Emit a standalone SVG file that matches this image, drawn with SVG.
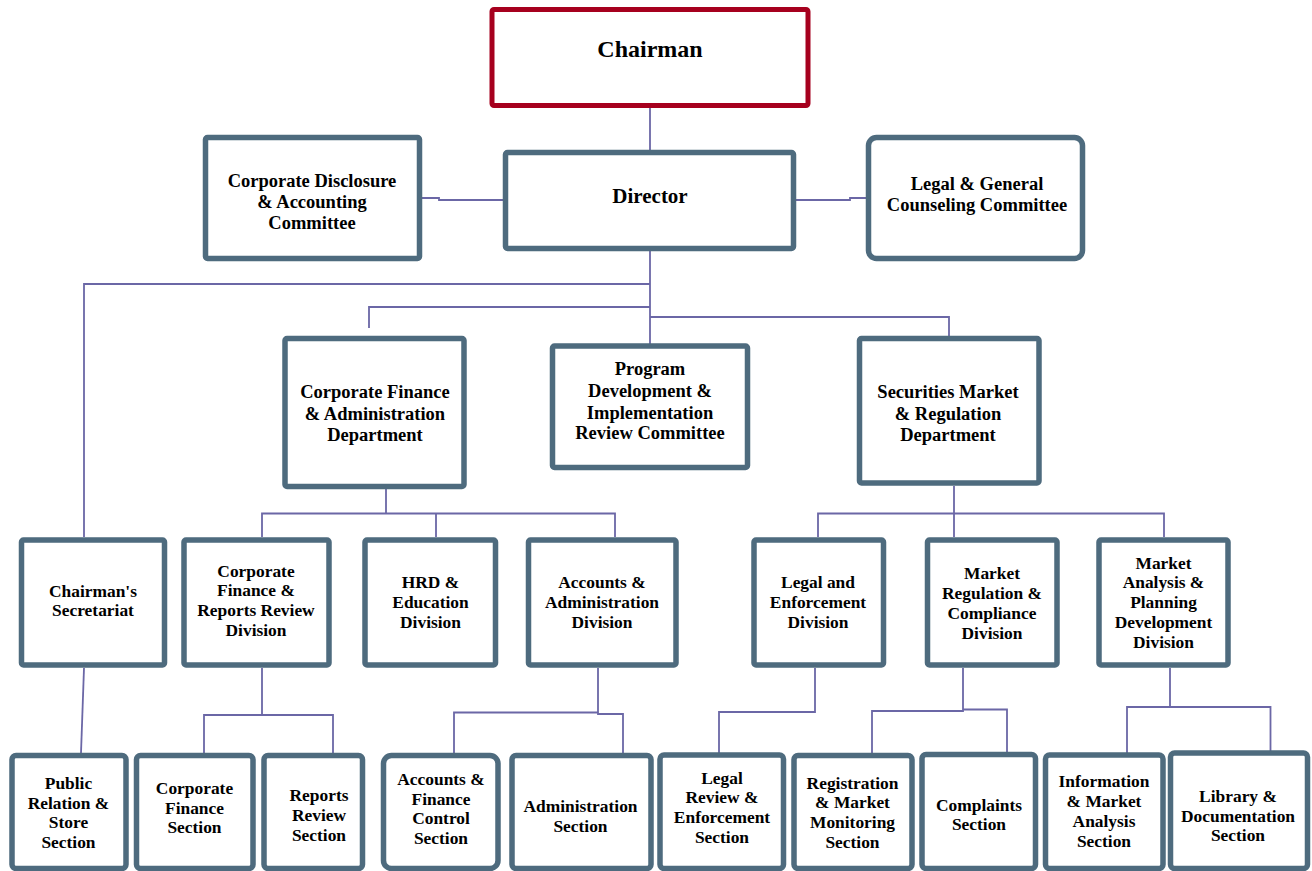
<svg xmlns="http://www.w3.org/2000/svg" width="1312" height="871" viewBox="0 0 1312 871">
<style>
.bx{fill:#fff;stroke:#4E6B7E;stroke-width:5.5}
.red{fill:#fff;stroke:#A6001E;stroke-width:5}
.cn{fill:none;stroke:#6B67A6;stroke-width:1.8}
text{font-family:"Liberation Serif","Times New Roman",serif;font-weight:bold;fill:#000;text-anchor:middle}
.t1{font-size:24px}
.t2{font-size:21px}
.t3{font-size:18.5px}
.t4{font-size:17.4px}
</style>
<rect width="1312" height="871" fill="#fff"/>
<g id="connectors">
<path class="cn" d="M650,108 V151"/>
<path class="cn" d="M422,198 H439 V200 H503"/>
<path class="cn" d="M796,200 H850 V198 H866"/>
<path class="cn" d="M650,251 V345"/>
<path class="cn" d="M650,284 H84 V537"/>
<path class="cn" d="M650,307 H369 V328"/>
<path class="cn" d="M650,317 H949 V343"/>
<path class="cn" d="M386,489 V513.5 M262,537 V513.5 H615 V537 M436,513.5 V537"/>
<path class="cn" d="M954,486 V537 M818,537 V513.5 H1164 V537"/>
<path class="cn" d="M84,668 L81,753"/>
<path class="cn" d="M262,668 V715 M204,753 V715 H333 V753"/>
<path class="cn" d="M598,668 V713 M454,753 V712.5 H598 V714 H623 V753"/>
<path class="cn" d="M815,668 V712 H719 V753"/>
<path class="cn" d="M963,668 V711 M872,753 V711 H963 V709.5 H1007 V753"/>
<path class="cn" d="M1170,668 V707 M1127,753 V707 H1270.5 V752"/>
</g>
<g id="chairman"><rect class="red" x="492" y="9.5" width="316" height="96" rx="2"/><text class="t1" x="650" y="57">Chairman</text></g>
<g id="corp-disclosure"><rect class="bx" x="205.5" y="137.5" width="214" height="121" rx="2"/><text class="t3" x="312" y="186.5">Corporate Disclosure</text><text class="t3" x="312" y="207.5">&amp; Accounting</text><text class="t3" x="312" y="228.5">Committee</text></g>
<g id="director"><rect class="bx" x="505.5" y="152.5" width="288" height="96" rx="2"/><text class="t2" x="650" y="202.5">Director</text></g>
<g id="legal-general"><rect class="bx" x="868.5" y="137.5" width="214" height="121" rx="8"/><text class="t3" x="977" y="190">Legal &amp; General</text><text class="t3" x="977" y="211">Counseling Committee</text></g>
<g id="cfa-dept"><rect class="bx" x="285" y="338.5" width="179" height="148" rx="2"/><text class="t3" x="375" y="398">Corporate Finance</text><text class="t3" x="375" y="419.5">&amp; Administration</text><text class="t3" x="375" y="441">Department</text></g>
<g id="program"><rect class="bx" x="552.5" y="346" width="195" height="121.5" rx="2"/><text class="t3" x="650" y="375">Program</text><text class="t3" x="650" y="397">Development &amp;</text><text class="t3" x="650" y="418.5">Implementation</text><text class="t3" x="650" y="439">Review Committee</text></g>
<g id="securities-dept"><rect class="bx" x="859.5" y="338.5" width="179.5" height="144.5" rx="2"/><text class="t3" x="948" y="398">Securities Market</text><text class="t3" x="948" y="419.5">&amp; Regulation</text><text class="t3" x="948" y="441">Department</text></g>
<g id="chairmans-secretariat"><rect class="bx" x="21.5" y="540" width="143" height="125" rx="2"/><text class="t4" x="93" y="596.5">Chairman's</text><text class="t4" x="93" y="616">Secretariat</text></g>
<g id="cfrr-division"><rect class="bx" x="184" y="540" width="145" height="125" rx="2"/><text class="t4" x="256" y="576.5">Corporate</text><text class="t4" x="256" y="596.3">Finance &amp;</text><text class="t4" x="256" y="616">Reports Review</text><text class="t4" x="256" y="636">Division</text></g>
<g id="hrd-division"><rect class="bx" x="365" y="540" width="130.5" height="125" rx="2"/><text class="t4" x="430.5" y="588.3">HRD &amp;</text><text class="t4" x="430.5" y="608.3">Education</text><text class="t4" x="430.5" y="628.3">Division</text></g>
<g id="accounts-admin-division"><rect class="bx" x="528.5" y="540" width="147.5" height="125" rx="2"/><text class="t4" x="602" y="588.3">Accounts &amp;</text><text class="t4" x="602" y="608.3">Administration</text><text class="t4" x="602" y="628.3">Division</text></g>
<g id="legal-enforcement-division"><rect class="bx" x="754" y="540" width="129.5" height="125" rx="2"/><text class="t4" x="818" y="588.3">Legal and</text><text class="t4" x="818" y="608.3">Enforcement</text><text class="t4" x="818" y="628.3">Division</text></g>
<g id="market-regulation-division"><rect class="bx" x="927.5" y="540" width="129.5" height="125" rx="2"/><text class="t4" x="992" y="579.3">Market</text><text class="t4" x="992" y="599.3">Regulation &amp;</text><text class="t4" x="992" y="619.3">Compliance</text><text class="t4" x="992" y="639.3">Division</text></g>
<g id="market-analysis-division"><rect class="bx" x="1099" y="540" width="129" height="125" rx="2"/><text class="t4" x="1163.5" y="569.3">Market</text><text class="t4" x="1163.5" y="588.3">Analysis &amp;</text><text class="t4" x="1163.5" y="608.3">Planning</text><text class="t4" x="1163.5" y="628.3">Development</text><text class="t4" x="1163.5" y="648.3">Division</text></g>
<g id="public-relation-section"><rect class="bx" x="12" y="755.5" width="114" height="113" rx="4"/><text class="t4" x="68.5" y="789.3">Public</text><text class="t4" x="68.5" y="809.3">Relation &amp;</text><text class="t4" x="68.5" y="828.3">Store</text><text class="t4" x="68.5" y="847.7">Section</text></g>
<g id="corporate-finance-section"><rect class="bx" x="136.5" y="755.5" width="116.5" height="113" rx="4"/><text class="t4" x="194.5" y="794.3">Corporate</text><text class="t4" x="194.5" y="814">Finance</text><text class="t4" x="194.5" y="833.3">Section</text></g>
<g id="reports-review-section"><rect class="bx" x="264" y="755.5" width="98.5" height="113" rx="4"/><text class="t4" x="319" y="801">Reports</text><text class="t4" x="319" y="820.7">Review</text><text class="t4" x="319" y="840.7">Section</text></g>
<g id="accounts-finance-control-section"><rect class="bx" x="383.5" y="755.5" width="114.5" height="113" rx="8"/><text class="t4" x="441" y="785">Accounts &amp;</text><text class="t4" x="441" y="805">Finance</text><text class="t4" x="441" y="824.3">Control</text><text class="t4" x="441" y="843.7">Section</text></g>
<g id="administration-section"><rect class="bx" x="512" y="755.5" width="139" height="113" rx="4"/><text class="t4" x="580.5" y="812.3">Administration</text><text class="t4" x="580.5" y="831.7">Section</text></g>
<g id="legal-review-section"><rect class="bx" x="660" y="755" width="123.5" height="113.5" rx="4"/><text class="t4" x="722" y="784">Legal</text><text class="t4" x="722" y="802.7">Review &amp;</text><text class="t4" x="722" y="822.7">Enforcement</text><text class="t4" x="722" y="842.7">Section</text></g>
<g id="registration-section"><rect class="bx" x="794" y="755.5" width="118" height="113" rx="4"/><text class="t4" x="852.5" y="789">Registration</text><text class="t4" x="852.5" y="808.3">&amp; Market</text><text class="t4" x="852.5" y="828.3">Monitoring</text><text class="t4" x="852.5" y="847.7">Section</text></g>
<g id="complaints-section"><rect class="bx" x="922" y="754.5" width="113.5" height="114" rx="4"/><text class="t4" x="979" y="810.7">Complaints</text><text class="t4" x="979" y="830">Section</text></g>
<g id="information-section"><rect class="bx" x="1045.5" y="755" width="117.5" height="113.5" rx="4"/><text class="t4" x="1104" y="786.7">Information</text><text class="t4" x="1104" y="806.7">&amp; Market</text><text class="t4" x="1104" y="826.7">Analysis</text><text class="t4" x="1104" y="847.3">Section</text></g>
<g id="library-section"><rect class="bx" x="1170.5" y="753" width="137" height="115.5" rx="4"/><text class="t4" x="1238" y="801.7">Library &amp;</text><text class="t4" x="1238" y="821.7">Documentation</text><text class="t4" x="1238" y="840.7">Section</text></g>
</svg>
